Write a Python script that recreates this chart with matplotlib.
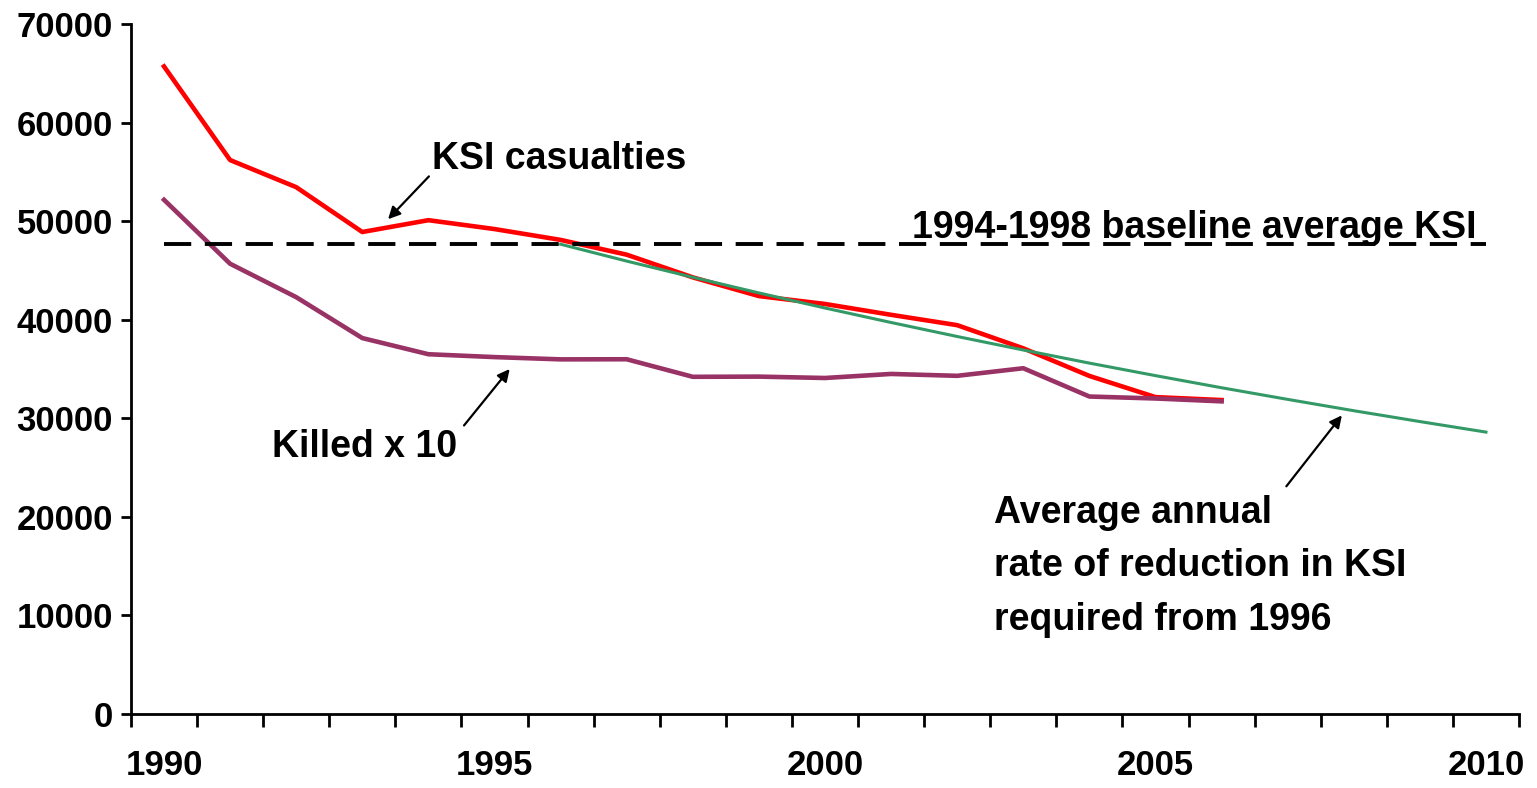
import matplotlib.pyplot as plt
from matplotlib.ticker import FixedLocator, NullFormatter

plt.rcParams['font.family'] = ['Liberation Sans', 'DejaVu Sans']
plt.rcParams['font.weight'] = 'bold'

# Data
years = list(range(1990, 2011))
ksi = [65700, 56200, 53450, 48900, 50100, 49200, 48100, 46600, 44300, 42400,
       41600, 40500, 39450, 37100, 34300, 32150, 31850]
killed_x10 = [52170, 45680, 42290, 38140, 36500, 36210, 35980, 35990, 34210, 34230,
              34090, 34500, 34310, 35080, 32210, 32010, 31720]
target_years = list(range(1996, 2011))
target = [47660, 45950, 44310, 42720, 41190, 39720, 38300, 36930, 35600, 34330,
          33100, 31920, 30770, 29670, 28600]
baseline = 47656

idx = {y: i for i, y in enumerate(years)}

fig = plt.figure(figsize=(15.37, 7.88), dpi=100)
ax = fig.add_axes([0.0852, 0.0939, 0.9031, 0.8756])

ax.plot([idx[y] for y in years[:len(ksi)]], ksi, color='#FF0000', lw=3.3)
ax.plot([idx[y] for y in years[:len(killed_x10)]], killed_x10, color='#993366', lw=3.3)
ax.plot([idx[y] for y in target_years], target, color='#339966', lw=2.2)
ax.plot([0, len(years) - 1], [baseline, baseline], color='black', lw=2.8, dashes=(7, 3.5))

ax.set_xlim(-0.5, len(years) - 0.5)
ax.set_ylim(0, 70000)
ax.set_yticks(range(0, 70001, 10000))
ax.set_yticklabels([str(v) for v in range(0, 70001, 10000)], fontsize=25, fontweight='bold')

ax.xaxis.set_major_locator(FixedLocator([0, 5, 10, 15, 20]))
ax.set_xticklabels(['1990', '1995', '2000', '2005', '2010'], fontsize=25, fontweight='bold')
ax.xaxis.set_minor_locator(FixedLocator([i - 0.5 for i in range(len(years) + 1)]))
ax.xaxis.set_minor_formatter(NullFormatter())
ax.tick_params(axis='x', which='major', length=0, pad=25)
ax.tick_params(axis='x', which='minor', length=9, width=2, direction='out')
ax.tick_params(axis='y', length=7, width=2, direction='out', pad=6)

for s in ['top', 'right']:
    ax.spines[s].set_visible(False)
for s in ['left', 'bottom']:
    ax.spines[s].set_linewidth(2)

# Annotations
arrow = dict(arrowstyle='-|>', color='black', lw=1.6, mutation_scale=18)
ax.annotate('KSI casualties', xy=(3.39, 50200), xytext=(4.05, 56300),
            fontsize=27, fontweight='bold', ha='left', va='center',
            arrowprops=dict(arrow, shrinkA=0, shrinkB=0, relpos=(0, 0.1)))
ax.text(11.31, 49300, '1994-1998 baseline average KSI', fontsize=27, fontweight='bold',
        ha='left', va='center')
ax.annotate('Killed x 10', xy=(5.23, 35000), xytext=(1.63, 27100),
            fontsize=27, fontweight='bold', ha='left', va='center',
            arrowprops=dict(arrow, shrinkA=5, shrinkB=0, relpos=(1.0, 0.85)))
ax.annotate('', xy=(17.82, 30300), xytext=(16.98, 23100),
            arrowprops=dict(arrow, shrinkA=0, shrinkB=0))
ax.text(12.56, 15000, 'Average annual\nrate of reduction in KSI\nrequired from 1996',
        fontsize=27, fontweight='bold', ha='left', va='center', linespacing=1.62)

fig.savefig('out.png', dpi=100)
